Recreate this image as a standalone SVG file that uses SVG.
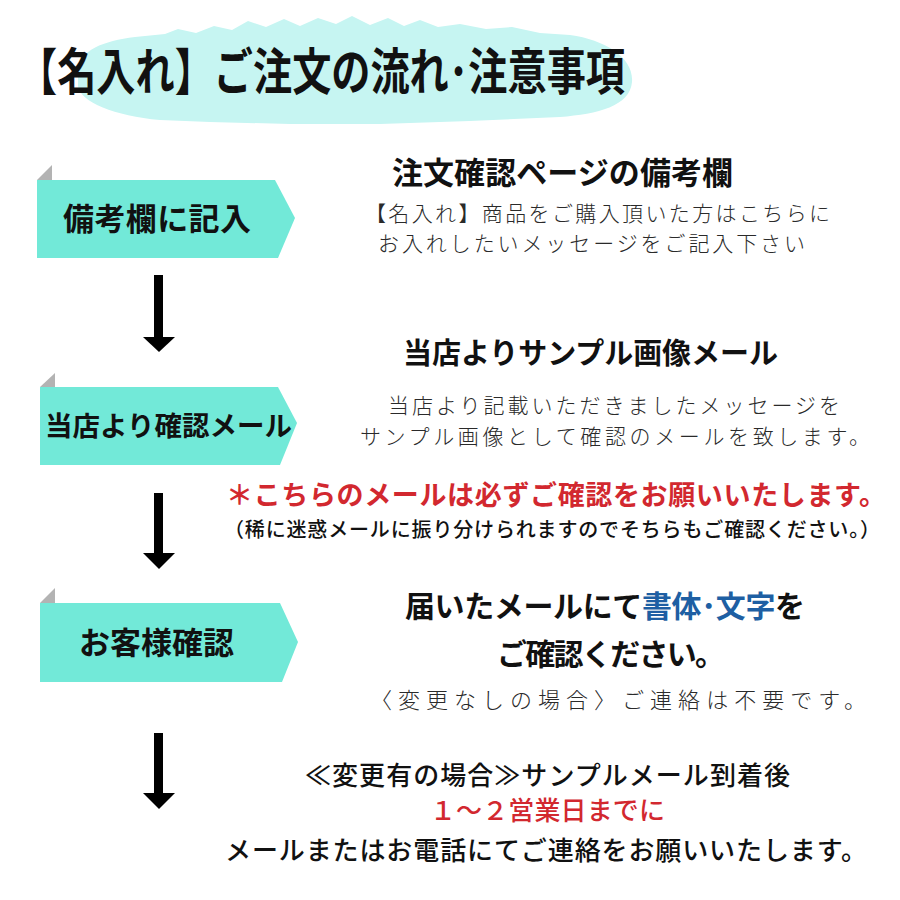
<svg xmlns="http://www.w3.org/2000/svg" width="900" height="900" viewBox="0 0 900 900">
<style>
.jp{font-family:"Noto Sans CJK JP","Noto Sans",sans-serif}
.b{font-weight:700}
.m{font-weight:500}
.l{font-weight:300;fill:#2a2a2a}
.tab{fill:#72e9d8}
.fold{fill:#b3b3b3}
.arw{fill:#000}
.ink{fill:#111}
.red{fill:#d2282f}
.blue{fill:#1e5fa3}
</style>
<rect width="900" height="900" fill="#fff"/>
<g id="title">
<path fill="#c6f5f2" d="M78,70 C80,50 103,41 135,37 L165,34 L178,29 L196,33 L214,26 L232,30 L248,21 L266,27 L284,19 L300,26 L318,18 L336,24 L352,16 L370,25 L388,18 L404,26 L420,20 L438,27 L460,24 L486,29 L512,27 L540,33 L570,35 C606,40 634,58 632,82 C630,106 598,114 560,117 L470,121 L380,124 L290,124 L210,122 L160,120 C115,116 80,102 78,86 Z"/>
<text class="jp b ink" x="18" y="90" font-size="50" textLength="607" lengthAdjust="spacingAndGlyphs">【名入れ】ご注文の流れ･注意事項</text>
</g>
<g id="connectors">
<g id="arrow1"><rect class="arw" x="154" y="275" width="9" height="63"/><polygon class="arw" points="143,337 175,337 159,352"/></g>
<g id="arrow2"><rect class="arw" x="154" y="493" width="9" height="61"/><polygon class="arw" points="143,553 175,553 159,569"/></g>
<g id="arrow3"><rect class="arw" x="154" y="733" width="9" height="61"/><polygon class="arw" points="143,793 175,793 159,809"/></g>
</g>
<g id="step1">
<polygon class="fold" points="37,180 52,165 52,180"/>
<path class="tab" d="M37,180 H275 L295,218 L278,258 H37 Z"/>
<text class="jp b ink" x="63" y="230" font-size="31" textLength="188">備考欄に記入</text>
</g>
<g id="step2">
<polygon class="fold" points="40,387 55,373 55,387"/>
<path class="tab" d="M40,387 H278 L297,423 L280,465 H40 Z"/>
<text class="jp b ink" x="45" y="436" font-size="27.5" textLength="247">当店より確認メール</text>
</g>
<g id="step3">
<polygon class="fold" points="40,603 55,588 55,603"/>
<path class="tab" d="M40,603 H280 L298,642 L282,682 H40 Z"/>
<text class="jp b ink" x="79" y="654" font-size="31" textLength="155">お客様確認</text>
</g>
<g id="desc1">
<text class="jp b ink" x="392" y="184" font-size="31" textLength="341">注文確認ページの備考欄</text>
<text class="jp l" x="365" y="221" font-size="21" textLength="465">【名入れ】商品をご購入頂いた方はこちらに</text>
<text class="jp l" x="378" y="251" font-size="21" textLength="427">お入れしたいメッセージをご記入下さい</text>
</g>
<g id="desc2">
<text class="jp b ink" x="403" y="364" font-size="29" textLength="375">当店よりサンプル画像メール</text>
<text class="jp l" x="388" y="413" font-size="21" textLength="452">当店より記載いただきましたメッセージを</text>
<text class="jp l" x="360" y="444" font-size="21" textLength="510">サンプル画像として確認のメールを致します。</text>
<text class="jp b red" x="226" y="505" font-size="27" textLength="660">＊こちらのメールは必ずご確認をお願いいたします。</text>
<text class="jp m ink" x="224" y="537" font-size="20" textLength="656">（稀に迷惑メールに振り分けられますのでそちらもご確認ください。）</text>
</g>
<g id="desc3">
<text class="jp b ink" x="405" y="617" font-size="30" textLength="400">届いたメールにて<tspan class="blue">書体･文字</tspan>を</text>
<text class="jp b ink" x="497" y="665" font-size="30" textLength="228">ご確認ください。</text>
<text class="jp l" x="370" y="708" font-size="22" textLength="496">〈変更なしの場合〉ご連絡は不要です。</text>
</g>
<g id="desc4">
<text class="jp m ink" x="305" y="785" font-size="26" textLength="485">≪変更有の場合≫サンプルメール到着後</text>
<text class="jp m red" x="430" y="820" font-size="26" textLength="235">１～２営業日までに</text>
<text class="jp m ink" x="225" y="860" font-size="26" textLength="642">メールまたはお電話にてご連絡をお願いいたします。</text>
</g>
</svg>
